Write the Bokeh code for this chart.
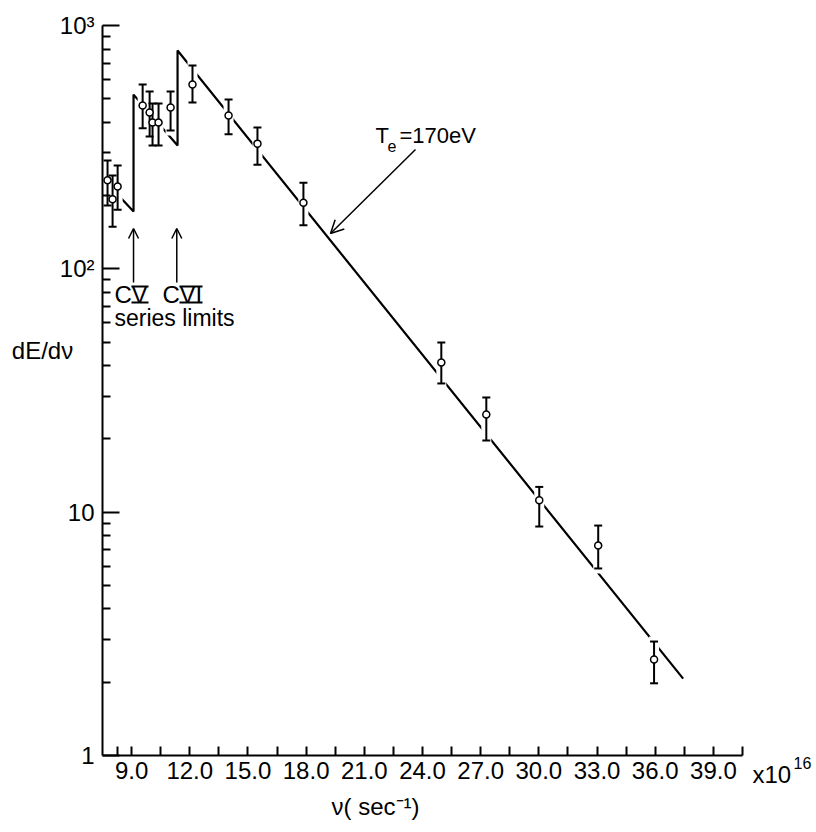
from bokeh.plotting import figure
from bokeh.models import FixedTicker, NumeralTickFormatter, Label, Arrow, OpenHead, Range1d
from bokeh.embed import file_html
from bokeh.resources import INLINE

# ---- data ----
nu = [7.76, 8.02, 8.28, 9.57, 9.93, 10.08, 10.39, 11.01, 12.14, 14.0, 15.49,
      17.86, 24.97, 27.29, 30.02, 33.06, 35.94]
dEdnu = [231, 193, 218, 469, 439, 399, 399, 460, 572, 427, 327,
         187, 41.2, 25.2, 11.2, 7.29, 2.48]
err_hi = [279, 242, 266, 572, 535, 478, 478, 535, 685, 497, 381,
          226, 49.8, 29.6, 12.7, 8.81, 2.94]
err_lo = [182, 149, 175, 378, 350, 321, 321, 370, 483, 357, 268,
          151, 33.8, 19.7, 8.73, 5.87, 1.98]

# fitted model (Te = 170 eV) with the C V and C VI recombination edges
model_nu = [8.33, 9.10, 9.10, 11.37, 11.37, 37.44]
model_dE = [200, 172, 520, 321, 789, 2.07]

edges_nu = [9.10, 11.33]
edge_labels = ["C", "C"]
edge_numerals = ["V", "VI"]

x_major = [9.0, 12.0, 15.0, 18.0, 21.0, 24.0, 27.0, 30.0, 33.0, 36.0, 39.0]
x_minor = [8.25, 10.5, 13.5, 16.5, 19.5, 22.5, 25.5, 28.5, 31.5, 34.5, 37.5, 40.5]
y_major = [1, 10, 100, 1000]
y_major_labels = ["1", "10", "10²", "10³"]
y_minor = [m * d for d in (1, 10, 100) for m in range(2, 10)]

FONT = "Liberation Sans"
W, H = 812, 830
X0, X1 = 7.5, 40.5          # axis extent
PX_LEFT, PX_RIGHT = 102, 742
PX_TOP, PX_BOT = 25, 755    # 1000 and 1


def dx(px):
    return X0 + (px - PX_LEFT) * (X1 - X0) / (PX_RIGHT - PX_LEFT)


def dy(py):
    return 10 ** (3 - (py - PX_TOP) * 3.0 / (PX_BOT - PX_TOP))


p = figure(width=W, height=H,
           x_range=Range1d(dx(0), dx(W)), y_range=Range1d(dy(H), dy(0)),
           y_axis_type="log", output_backend="svg", toolbar_location=None,
           min_border=0)
p.outline_line_color = None
p.xgrid.visible = False
p.ygrid.visible = False
p.background_fill_color = "white"
p.border_fill_color = "white"

# x axis
xa = p.xaxis[0]
xa.fixed_location = 1
xa.bounds = (X0, X1)
xa.ticker = FixedTicker(ticks=x_major, minor_ticks=x_minor)
xa.formatter = NumeralTickFormatter(format="0.0")
xa.axis_line_width = 2
xa.major_tick_in = 9
xa.major_tick_out = 0
xa.minor_tick_in = 9
xa.minor_tick_out = 0
xa.major_tick_line_width = 2
xa.minor_tick_line_width = 2
xa.major_label_text_font = FONT
xa.major_label_text_font_size = "24px"
xa.major_label_text_color = "black"
xa.major_label_standoff = 6

# y axis
ya = p.yaxis[0]
ya.fixed_location = X0
ya.bounds = (1, 1000)
ya.ticker = FixedTicker(ticks=y_major, minor_ticks=y_minor)
ya.major_label_overrides = {v: s for v, s in zip(y_major, y_major_labels)}
ya.axis_line_width = 2
ya.major_tick_in = 17
ya.major_tick_out = 0
ya.minor_tick_in = 8
ya.minor_tick_out = 0
ya.major_tick_line_width = 2
ya.minor_tick_line_width = 2
ya.major_label_text_font = FONT
ya.major_label_text_font_size = "24px"
ya.major_label_text_color = "black"
ya.major_label_standoff = 8

# model curve
p.line(model_nu, model_dE, line_color="black", line_width=2.2)

# white halo that breaks the model line around the error bars
p.segment(x0=nu, y0=err_lo, x1=nu, y1=err_hi, line_color="white",
          line_width=10, line_cap="square")

# error bars
p.segment(x0=nu, y0=err_lo, x1=nu, y1=err_hi, line_color="black", line_width=2)
p.scatter(nu, err_hi, marker="dash", size=8, line_color="black", line_width=2)
p.scatter(nu, err_lo, marker="dash", size=8, line_color="black", line_width=2)
# data points
p.scatter(nu, dEdnu, marker="circle", size=7, fill_color="white",
          line_color="black", line_width=1.5)

# series-limit arrows
for e in edges_nu:
    p.add_layout(Arrow(end=OpenHead(size=10, line_width=1.5, line_color="black"),
                       x_start=e, y_start=dy(282), x_end=e, y_end=dy(228),
                       line_width=1.5, line_color="black"))


def text(px, py, s, size="24px", align="left"):
    # py is the visual middle of the text line
    p.add_layout(Label(x=dx(px), y=dy(py), text=s, text_font=FONT,
                       text_font_size=size, text_color="black",
                       text_align=align, text_baseline="middle"))


# "C V" and "C VI" with barred roman numerals
text(114, 294, edge_labels[0])
text(131, 294, edge_numerals[0])
text(162, 294, edge_labels[1])
text(179, 294, edge_numerals[1])
bar_x0 = [dx(131), dx(131), dx(179), dx(179)]
bar_x1 = [dx(148), dx(148), dx(202), dx(202)]
bar_y = [dy(286), dy(302), dy(286), dy(302)]
p.segment(x0=bar_x0, y0=bar_y, x1=bar_x1, y1=bar_y, line_color="black", line_width=2)
text(114, 317, "series limits", size="23px")

# Te annotation
text(375, 135, "T", size="22px")
text(387, 145, "e", size="16px")
text(399, 135, "=170eV", size="22px")
p.add_layout(Arrow(end=OpenHead(size=13, line_width=1.5, line_color="black"),
                   x_start=dx(415), y_start=dy(149), x_end=dx(330), y_end=dy(233),
                   line_width=1.5, line_color="black"))

# axis titles
text(42, 350, "dE/dν", align="center")
text(375, 806, "ν( sec⁻¹)", align="center")
text(752, 774, "x10")
text(793, 762, "16", size="16px")

open("out.html", "w").write(file_html(p, INLINE))
